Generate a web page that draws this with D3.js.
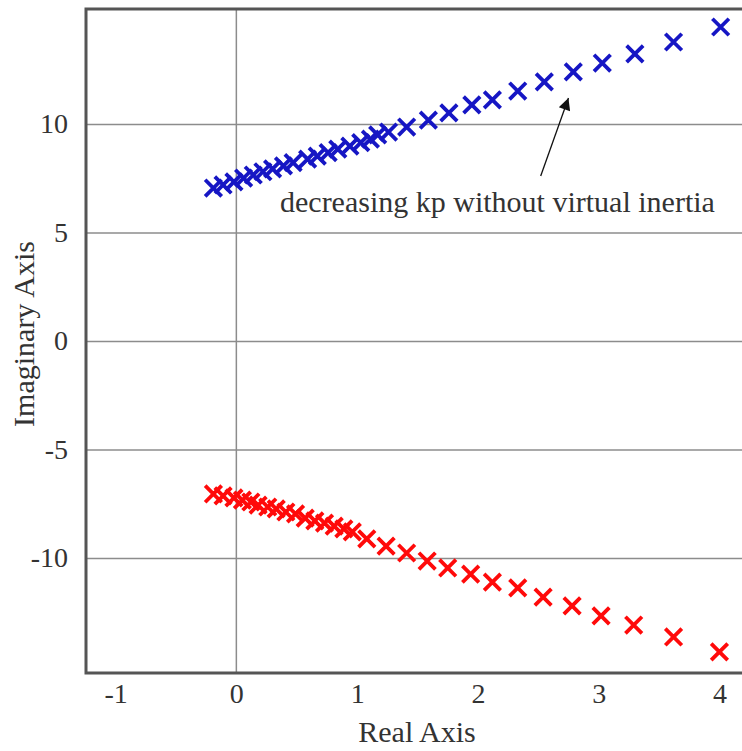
<!DOCTYPE html>
<head>
    <meta charset="utf-8">
    <title>Root locus</title>
    <script src="https://cdn.jsdelivr.net/npm/d3@7"></script>
    <style>
        body { margin: 0; background: #fff; }
        text { font-family: "Liberation Serif", "DejaVu Serif", serif; fill: #333; }
    </style>
</head>

<body>
    <div id="chart"></div>
</body>

<script>
    // poles, upper branch (blue) and lower branch (red)
    var upperRe = [-0.19, -0.11, -0.02, 0.06, 0.14, 0.22, 0.30, 0.39, 0.47, 0.59, 0.67, 0.76, 0.84, 0.94, 1.03, 1.11,
        1.17, 1.26, 1.41, 1.59, 1.76, 1.95, 2.12, 2.33, 2.55, 2.79, 3.03, 3.30, 3.62, 4.01];
    var upperIm = [7.05, 7.19, 7.33, 7.51, 7.65, 7.80, 7.93, 8.07, 8.22, 8.38, 8.52, 8.68, 8.84, 8.98, 9.14, 9.30,
        9.50, 9.63, 9.86, 10.18, 10.51, 10.88, 11.11, 11.52, 11.94, 12.40, 12.81, 13.23, 13.78, 14.47];
    var lowerRe = [-0.19, -0.11, -0.02, 0.05, 0.12, 0.18, 0.26, 0.33, 0.41, 0.49, 0.57, 0.65, 0.73, 0.81, 0.89, 0.96,
        1.08, 1.24, 1.41, 1.58, 1.75, 1.94, 2.12, 2.33, 2.54, 2.78, 3.02, 3.29, 3.62, 4.00];
    var lowerIm = [-7.05, -7.14, -7.23, -7.33, -7.42, -7.56, -7.65, -7.74, -7.88, -7.97, -8.16, -8.29, -8.39, -8.53, -8.66, -8.80,
        -9.12, -9.45, -9.77, -10.14, -10.46, -10.74, -11.11, -11.38, -11.80, -12.21, -12.67, -13.09, -13.64, -14.33];

    var xTicks = [-1, 0, 1, 2, 3, 4];
    var yTicks = [-10, -5, 0, 5, 10];
    var note = 'decreasing kp without virtual inertia';

    var W = 742, H = 751;
    var svg = d3.select('#chart').append('svg')
        .attr('width', W)
        .attr('height', H);

    var x = d3.scaleLinear().domain([-1.245, 4.22]).range([86, 746]);
    var y = d3.scaleLinear().domain([-15.3, 15.3]).range([673, 9]);

    // grid: horizontal at every y tick, vertical only at re = 0
    svg.append('g')
        .attr('transform', `translate(${x.range()[0]},0)`)
        .call(d3.axisLeft(y).tickValues(yTicks).tickSize(-(x.range()[1] - x.range()[0])).tickFormat(''))
        .call(g => g.select('.domain').remove())
        .selectAll('line').attr('stroke', '#8c8c8c').attr('stroke-width', 1.5);

    svg.append('line')
        .attr('x1', x(0)).attr('x2', x(0))
        .attr('y1', y.range()[1]).attr('y2', y.range()[0])
        .attr('stroke', '#8c8c8c').attr('stroke-width', 1.5);

    // frame (left, top, bottom)
    svg.append('path')
        .attr('d', `M${x.range()[1] + 5},${y.range()[1]} H${x.range()[0]} V${y.range()[0]} H${x.range()[1] + 5}`)
        .attr('fill', 'none')
        .attr('stroke', '#555')
        .attr('stroke-width', 3);

    // tick labels (plain hyphen for negatives)
    svg.append('g')
        .attr('transform', `translate(0,${y.range()[0] + 7})`)
        .call(d3.axisBottom(x).tickValues(xTicks).tickSize(0).tickFormat(d => String(d)))
        .call(g => g.select('.domain').remove())
        .selectAll('text').attr('font-size', 28).attr('fill', '#333')
        .style('font-family', '"Liberation Serif", serif');

    svg.append('g')
        .attr('transform', `translate(${x.range()[0] - 15},0)`)
        .call(d3.axisLeft(y).tickValues(yTicks).tickSize(0).tickFormat(d => String(d)))
        .call(g => g.select('.domain').remove())
        .selectAll('text').attr('font-size', 28).attr('fill', '#333')
        .style('font-family', '"Liberation Serif", serif');

    svg.append('text')
        .attr('x', 417).attr('y', 742)
        .attr('text-anchor', 'middle')
        .attr('font-size', 30)
        .text('Real Axis');

    svg.append('text')
        .attr('transform', 'translate(34,334) rotate(-90)')
        .attr('text-anchor', 'middle')
        .attr('font-size', 30)
        .text('Imaginary Axis');

    // x-shaped markers
    var cross = d3.symbol().type(d3.symbolX).size(180);
    function drawPoles(re, im, color) {
        svg.append('g').selectAll('path')
            .data(re.map((r, i) => [r, im[i]]))
            .join('path')
            .attr('d', cross)
            .attr('transform', d => `translate(${x(d[0])},${y(d[1])})`)
            .attr('fill', 'none')
            .attr('stroke', color)
            .attr('stroke-width', 3.8);
    }
    drawPoles(upperRe, upperIm, '#1616c4');
    drawPoles(lowerRe, lowerIm, '#ff0a0a');

    // annotation
    svg.append('defs').append('marker')
        .attr('id', 'head')
        .attr('viewBox', '0 0 10 10')
        .attr('refX', 10).attr('refY', 5)
        .attr('markerWidth', 16).attr('markerHeight', 12)
        .attr('markerUnits', 'userSpaceOnUse')
        .attr('orient', 'auto')
        .append('path')
        .attr('d', 'M0,0 L10,5 L0,10 z')
        .attr('fill', '#111');

    svg.append('line')
        .attr('x1', x(2.52)).attr('y1', y(7.6))
        .attr('x2', x(2.75)).attr('y2', y(11.2))
        .attr('stroke', '#111')
        .attr('stroke-width', 1.3)
        .attr('marker-end', 'url(#head)');

    svg.append('text')
        .attr('x', 280).attr('y', 212)
        .attr('font-size', 30)
        .text(note);
</script>
